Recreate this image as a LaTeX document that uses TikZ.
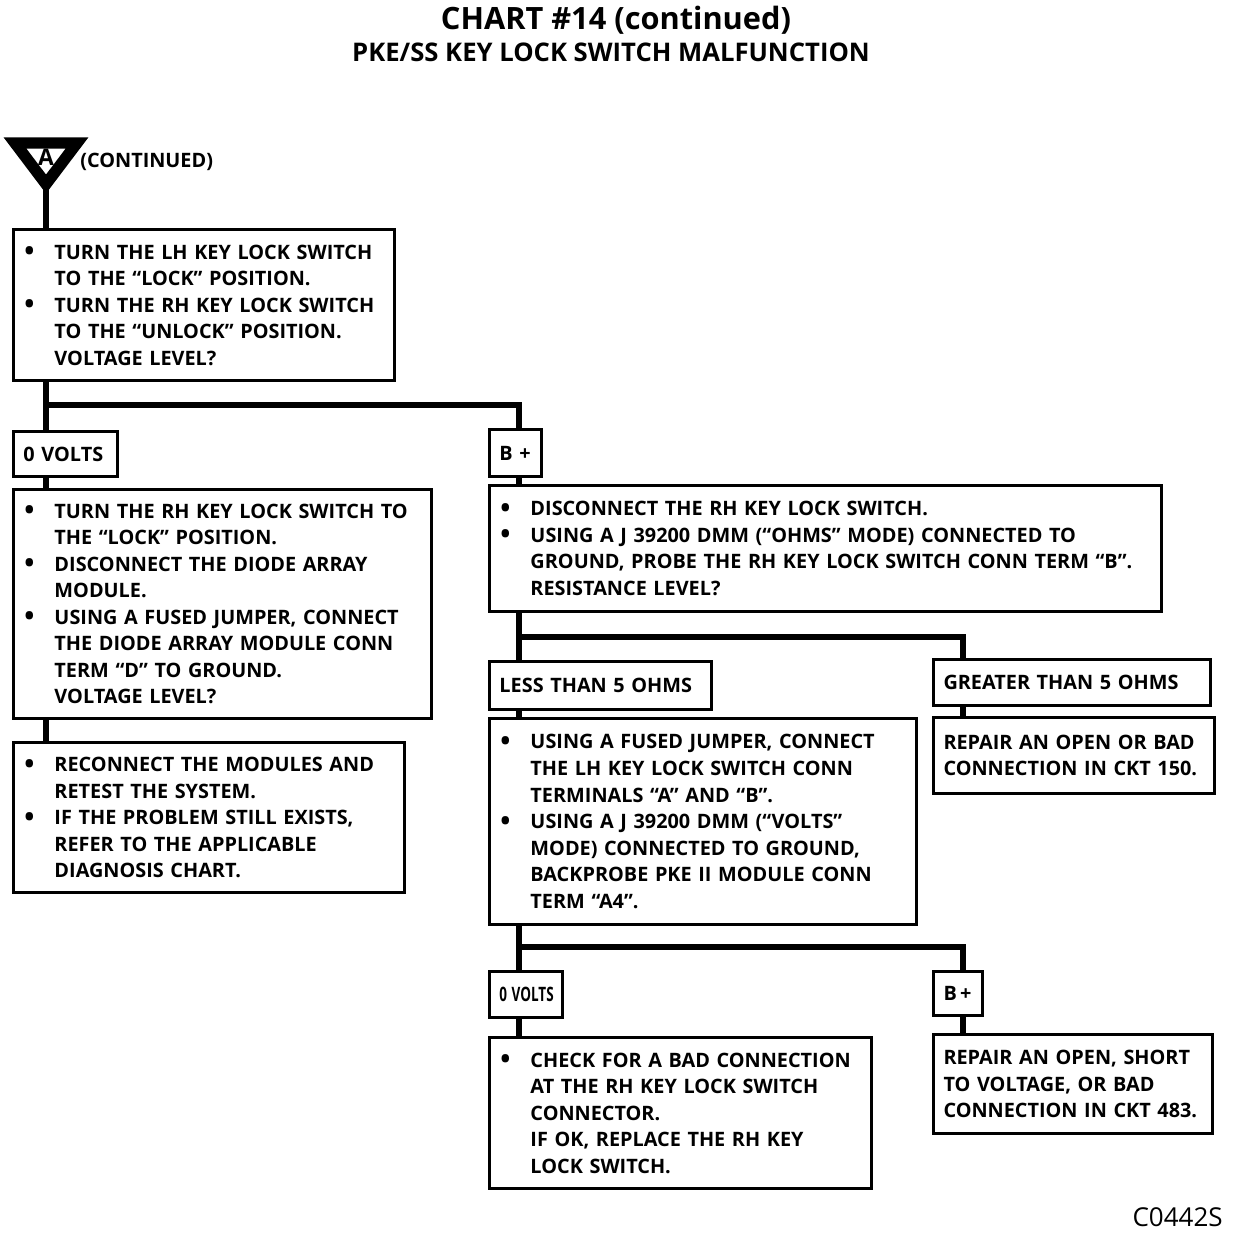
\documentclass[tikz,border=0pt]{standalone}
\usepackage{fontspec}
\usepackage{graphicx}
\setmainfont{Open Sans}
\newlength\pxu
\setlength\pxu{0.02cm}
\newcommand\bodyfont{\fontsize{11.3}{15.1}\selectfont\bfseries}
\newcommand\bul{\makebox[31\pxu][l]{\hspace{1\pxu}\smash{\raisebox{-0.15ex}{\scalebox{1.35}{\textbullet}}}}}
\newcommand\ind{\hspace*{31\pxu}}
\tikzset{
  box/.style={draw, line width=1.7pt, anchor=north west, inner ysep=0pt, inner xsep=10\pxu,
    align=left, font=\bodyfont},
  conn/.style={line width=3.8pt},
}
\newcommand\bx[6]{% name, x, y, w, h, text
  \node[box, text width=#4\pxu-20\pxu, minimum height=#5\pxu] (#1) at (#2,#3) {#6};}
\begin{document}
\begin{tikzpicture}[x=0.02cm,y=-0.02cm]
\useasboundingbox (0,0) rectangle (1248,1234);
\coordinate (L) at (46,0);
\coordinate (M) at (519,0);
\coordinate (R) at (963,0);

\node[font=\fontsize{17.5}{20}\selectfont\bfseries] (title) at (616,20) {CHART \#14 (continued)};
\node[font=\fontsize{14.6}{17}\selectfont\bfseries] (sub) at (611,52) {PKE/SS KEY LOCK SWITCH MALFUNCTION};

% triangle symbol
\draw[line width=6.5pt, line join=miter] (15,143) -- (77,143) -- (46,184) -- cycle;
\node[font=\fontsize{13}{14}\selectfont\bfseries, inner sep=0pt] (A) at (46,157) {A};
\coordinate (apex) at (46,190);
\node[font=\bodyfont, anchor=west, inner sep=0pt] (cont) at (80,162) {(CONTINUED)};

\bx{b1}{12}{228}{381}{151}{\bul TURN THE LH KEY LOCK SWITCH\\\ind TO THE “LOCK” POSITION.\\\bul TURN THE RH KEY LOCK SWITCH\\\ind TO THE “UNLOCK” POSITION.\\\ind VOLTAGE LEVEL?}
\bx{ov1}{12}{430}{104}{45}{0 VOLTS}
\bx{b2}{12}{488}{418}{229}{\bul TURN THE RH KEY LOCK SWITCH TO\\\ind THE “LOCK” POSITION.\\\bul DISCONNECT THE DIODE ARRAY\\\ind MODULE.\\\bul USING A FUSED JUMPER, CONNECT\\\ind THE DIODE ARRAY MODULE CONN\\\ind TERM “D” TO GROUND.\\\ind VOLTAGE LEVEL?}
\bx{b3}{12}{741}{391}{150}{\bul RECONNECT THE MODULES AND\\\ind RETEST THE SYSTEM.\\\bul IF THE PROBLEM STILL EXISTS,\\\ind REFER TO THE APPLICABLE\\\ind DIAGNOSIS CHART.}
\bx{bp1}{488}{428}{52}{47}{\mbox{B +}}
\bx{b4}{488}{484}{672}{126}{\bul DISCONNECT THE RH KEY LOCK SWITCH.\\\bul USING A J 39200 DMM (“OHMS” MODE) CONNECTED TO\\\ind GROUND, PROBE THE RH KEY LOCK SWITCH CONN TERM “B”.\\\ind RESISTANCE LEVEL?}
\bx{lt}{488}{660}{222}{48}{LESS THAN 5 OHMS}
\bx{gt}{932}{658}{277}{46}{GREATER THAN 5 OHMS}
\bx{r1}{932}{716}{281}{76}{REPAIR AN OPEN OR BAD\\CONNECTION IN CKT 150.}
\bx{b5}{488}{717}{427}{206}{\bul USING A FUSED JUMPER, CONNECT\\\ind THE LH KEY LOCK SWITCH CONN\\\ind TERMINALS “A” AND “B”.\\\bul USING A J 39200 DMM (“VOLTS”\\\ind MODE) CONNECTED TO GROUND,\\\ind BACKPROBE PKE II MODULE CONN\\\ind TERM “A4”.}
\bx{ov2}{488}{970}{73}{46}{\scalebox{0.68}[1]{0 VOLTS}}
\bx{bp2}{932}{970}{49}{44}{\mbox{B\,+}}
\bx{b6}{488}{1036}{382}{151}{\bul CHECK FOR A BAD CONNECTION\\\ind AT THE RH KEY LOCK SWITCH\\\ind CONNECTOR.\\\ind IF OK, REPLACE THE RH KEY\\\ind LOCK SWITCH.}
\bx{r2}{932}{1033}{279}{99}{REPAIR AN OPEN, SHORT\\TO VOLTAGE, OR BAD\\CONNECTION IN CKT 483.}

\node[font=\fontsize{14.8}{17}\selectfont, anchor=east, inner sep=0pt] (code) at (1223,1217) {C0442S};

\coordinate (j1) at (46,405);
\coordinate (j2) at (519,637);
\coordinate (j3) at (519,947);

\draw[conn] (apex) -- (b1.north -| L);
\draw[conn] (b1.south -| L) -- (ov1.north -| L);
\draw[conn] (j1) -| (bp1.north -| M);
\draw[conn] (ov1.south -| L) -- (b2.north -| L);
\draw[conn] (b2.south -| L) -- (b3.north -| L);
\draw[conn] (bp1.south -| M) -- (b4.north -| M);
\draw[conn] (b4.south -| M) -- (lt.north -| M);
\draw[conn] (j2) -| (gt.north -| R);
\draw[conn] (gt.south -| R) -- (r1.north -| R);
\draw[conn] (lt.south -| M) -- (b5.north -| M);
\draw[conn] (b5.south -| M) -- (ov2.north -| M);
\draw[conn] (j3) -| (bp2.north -| R);
\draw[conn] (ov2.south -| M) -- (b6.north -| M);
\draw[conn] (bp2.south -| R) -- (r2.north -| R);
\end{tikzpicture}
\end{document}
